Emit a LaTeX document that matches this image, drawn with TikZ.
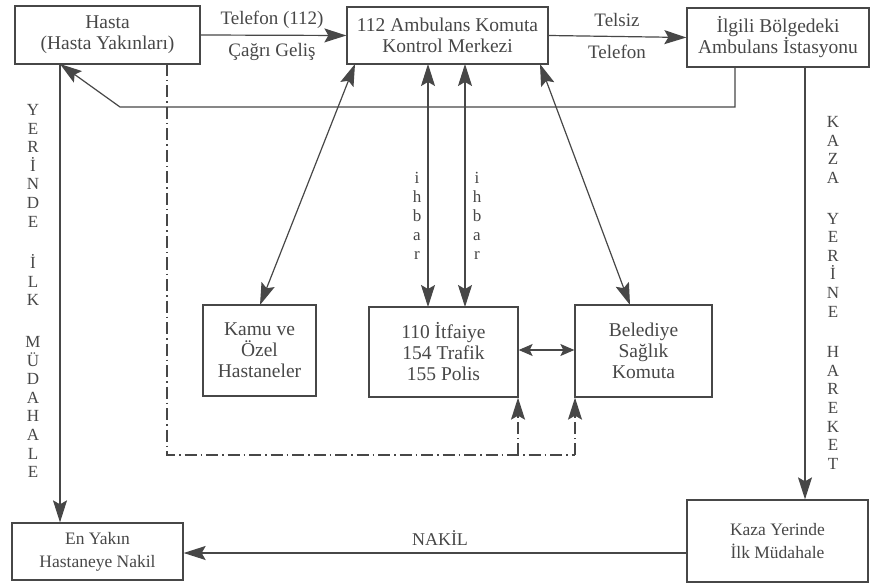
\documentclass[tikz,border=0pt]{standalone}
\usepackage{fontspec}
\setmainfont{Liberation Serif}
\usetikzlibrary{arrows.meta}
\definecolor{ink}{HTML}{474747}
\tikzset{
  box/.style={draw=ink, line width=1.3pt, rectangle, align=center, text=ink, inner sep=2pt,
    font=\fontsize{19.5}{21}\selectfont},
  sbox/.style={box, font=\fontsize{17.5}{23}\selectfont},
  lbl/.style={text=ink, font=\fontsize{19}{20}\selectfont},
  vlbl/.style={text=ink, align=center, font=\fontsize{17}{18.6}\selectfont},
  conn/.style={draw=ink, line width=1.2pt},
  tip/.tip={Stealth[length=22pt,width=14pt,inset=4pt]},
  stip/.tip={Stealth[length=14pt,width=12pt,inset=3pt]},
  arr/.style={conn, -tip},
  darr/.style={conn, tip-tip},
  sdarr/.style={conn, stip-stip},
  dd/.style={conn, dash pattern=on 12pt off 4pt on 1.5pt off 4pt}
}
\begin{document}
\begin{tikzpicture}[x=1pt,y=-1pt]
\useasboundingbox (0,0) rectangle (872,585);
\fill[white] (0,0) rectangle (872,585);

\node[box, minimum width=185pt, minimum height=58pt] (hasta) at (107.5,35) {Hasta\\(Hasta Yakınları)};
\node[box, minimum width=201pt, minimum height=57pt] (komuta) at (447.5,35.5) {112 Ambulans Komuta\\Kontrol Merkezi};
\node[box, minimum width=182pt, minimum height=59pt] (ilgili) at (778,37.5) {İlgili Bölgedeki\\Ambulans İstasyonu};
\node[box, minimum width=113pt, minimum height=91pt] (kamu) at (259.5,350.5) {Kamu ve\\Özel\\Hastaneler};
\node[box, minimum width=149pt, minimum height=90pt] (itf) at (443.5,352) {110 İtfaiye\\154 Trafik\\155 Polis};
\node[box, minimum width=137pt, minimum height=92pt] (bel) at (643.5,351) {Belediye\\Sağlık\\Komuta};
\node[sbox, minimum width=171pt, minimum height=57pt] (yakin) at (97.5,551.5) {En Yakın\\Hastaneye Nakil};
\node[sbox, minimum width=181pt, minimum height=82pt] (kaza) at (777.5,541) {Kaza Yerinde\\İlk Müdahale};

% top horizontal arrows
\draw[arr] (hasta.east) -- (komuta.west);
\node[lbl] (l1) at (272,20) {Telefon (112)};
\node[lbl] (l2) at (272,52) {Çağrı Geliş};
\draw[arr] (komuta.east) -- (ilgili.east -| ilgili.west);
\node[lbl] (l3) at (617,20) {Telsiz};
\node[lbl] (l4) at (617,52) {Telefon};

% return from station to Hasta
\coordinate (r0) at (735,67);
\coordinate (r1) at (735,107);
\coordinate (r2) at (120,107);
\coordinate (hs) at (60,64);
\draw[arr] (r0) -- (r1) -- (r2) -- (hs);

% Hasta -> En Yakin
\draw[arr] (hs) -- (hs |- yakin.north);
\node[vlbl] (v1) at (33,291) {Y\\E\\R\\İ\\N\\D\\E\\[23pt]İ\\L\\K\\[23pt]M\\Ü\\D\\A\\H\\A\\L\\E};

% Ilgili -> Kaza
\coordinate (s0) at (805,67);
\draw[arr] (s0) -- (s0 |- kaza.north);
\node[vlbl] (v2) at (833,293) {K\\A\\Z\\A\\[22pt]Y\\E\\R\\İ\\N\\E\\[22pt]H\\A\\R\\E\\K\\E\\T};

% Kaza -> En Yakin
\draw[arr] (kaza.west |- 0,553) -- (yakin.east |- 0,553);
\node[lbl, font=\fontsize{18}{20}\selectfont] (l5) at (440,538) {NAKİL};

% Kamu <-> 112
\coordinate (k1) at (260,305);
\coordinate (k2) at (355,64);
\draw[darr] (k1) -- (k2);

% ihbar
\coordinate (i1t) at (428,64);
\coordinate (i1b) at (428,307);
\coordinate (i2t) at (465,64);
\coordinate (i2b) at (465,307);
\draw[darr] (i1t) -- (i1b);
\draw[darr] (i2t) -- (i2b);
\node[vlbl, font=\fontsize{17}{19}\selectfont] (ih1) at (417,216) {i\\h\\b\\a\\r};
\node[vlbl, font=\fontsize{17}{19}\selectfont] (ih2) at (477,216) {i\\h\\b\\a\\r};

% 112 <-> Belediye
\coordinate (b1) at (540,64);
\coordinate (b2) at (630,305);
\draw[darr] (b1) -- (b2);

% 110 <-> Belediye
\draw[sdarr] (itf.east |- 0,350) -- (bel.west |- 0,350);

% dash-dot from Hasta
\coordinate (d0) at (167,64);
\coordinate (d1) at (167,455);
\coordinate (d2) at (518,455);
\coordinate (d3) at (575,455);
\draw[dd] (d0) -- (d1) -- (d3);
\draw[dd, -tip] (d2) -- (d2 |- itf.south);
\draw[dd, -tip] (d3) -- (d3 |- bel.south);
\end{tikzpicture}
\end{document}
